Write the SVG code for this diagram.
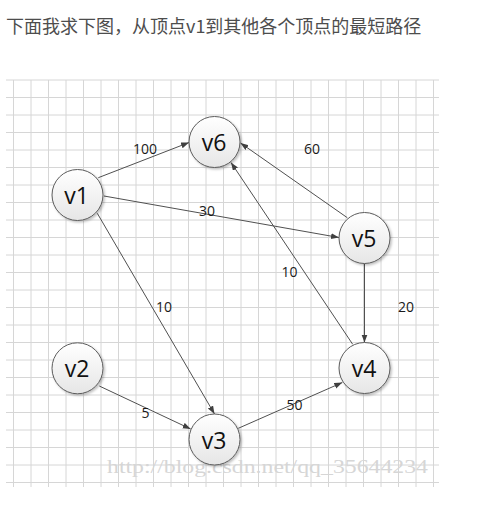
<svg xmlns="http://www.w3.org/2000/svg" width="481" height="514" viewBox="0 0 481 514">
<style>
.grid{stroke:#d6d6d6;stroke-width:1;fill:none}
.edge{stroke:#505050;stroke-width:1;fill:none;marker-end:url(#arr)}
.node circle{fill:url(#g);stroke:#5c5c5c;stroke-width:1;filter:url(#sh)}
.node text{font-family:"Open Sans","Liberation Sans",sans-serif;font-size:23px;fill:#111;text-anchor:middle}
.lbl{font-family:"Open Sans","Liberation Sans",sans-serif;font-size:14px;fill:#1a1a1a}
</style>
<defs>
<linearGradient id="g" x1="0" y1="0" x2="0" y2="1">
<stop offset="0" stop-color="#ffffff"/>
<stop offset="1" stop-color="#e6e6e6"/>
</linearGradient>
<filter id="sh" x="-30%" y="-30%" width="160%" height="160%">
<feDropShadow dx="1.5" dy="1.5" stdDeviation="1.2" flood-color="#000" flood-opacity="0.25"/>
</filter>
<marker id="arr" markerUnits="userSpaceOnUse" markerWidth="10" markerHeight="8" refX="8" refY="3" orient="auto">
<path d="M0,0 L8,3 L0,6 z" fill="#404040"/>
</marker>
</defs>
<rect width="481" height="514" fill="#ffffff"/>
<text x="6" y="33" font-family="'Noto Sans CJK SC','Liberation Sans',sans-serif" font-size="18" fill="#4d4d4d">下面我求下图，从顶点v1到其他各个顶点的最短路径</text>
<g id="grid">
<path class="grid" d="M6,80H439M6,97.5H439M6,115H439M6,132.5H439M6,150H439M6,167.5H439M6,185H439M6,202.5H439M6,220H439M6,237.5H439M6,255H439M6,272.5H439M6,290H439M6,307.5H439M6,325H439M6,342.5H439M6,360H439M6,377.5H439M6,395H439M6,412.5H439M6,430H439M6,447.5H439M6,465H439M6,482.5H439"/>
<path class="grid" d="M13.5,80V487M31,80V487M48.5,80V487M66,80V487M83.5,80V487M101,80V487M118.5,80V487M136,80V487M153.5,80V487M171,80V487M188.5,80V487M206,80V487M223.5,80V487M241,80V487M258.5,80V487M276,80V487M293.5,80V487M311,80V487M328.5,80V487M346,80V487M363.5,80V487M381,80V487M398.5,80V487M416,80V487M433.5,80V487"/>
</g>
<text x="107" y="473" font-family="'Liberation Serif',serif" font-size="18" fill="#d6d6d6" textLength="321" lengthAdjust="spacingAndGlyphs">http://blog.csdn.net/qq_35644234</text>
<g id="connectors">
<line class="edge" x1="98.3" y1="177.7" x2="189" y2="142.5"/>
<line class="edge" x1="104" y1="196" x2="339" y2="237.5"/>
<line class="edge" x1="97.3" y1="213.3" x2="214.5" y2="414"/>
<line class="edge" x1="347.3" y1="217.7" x2="240.5" y2="143"/>
<line class="edge" x1="352.7" y1="344.3" x2="231" y2="162.5"/>
<line class="edge" x1="364.5" y1="263.5" x2="364.5" y2="342.5"/>
<line class="edge" x1="99.3" y1="386" x2="190.7" y2="429"/>
<line class="edge" x1="238.3" y1="428.3" x2="342.3" y2="382.5"/>
<text class="lbl" x="133" y="154">100</text>
<text class="lbl" x="199" y="216">30</text>
<text class="lbl" x="156" y="311.5">10</text>
<text class="lbl" x="304" y="154">60</text>
<text class="lbl" x="281.5" y="276.5">10</text>
<text class="lbl" x="398" y="311.5">20</text>
<text class="lbl" x="141.5" y="417.5">5</text>
<text class="lbl" x="286.5" y="409.5">50</text>
</g>
<g id="v1" class="node"><circle cx="77.5" cy="195" r="25.5"/><text x="76.5" y="204">v1</text></g>
<g id="v6" class="node"><circle cx="214.5" cy="142" r="25.5"/><text x="214" y="151">v6</text></g>
<g id="v5" class="node"><circle cx="364.5" cy="238" r="25.5"/><text x="364" y="247">v5</text></g>
<g id="v2" class="node"><circle cx="77.5" cy="368.3" r="25.5"/><text x="77" y="377.3">v2</text></g>
<g id="v3" class="node"><circle cx="214.5" cy="439.5" r="25.5"/><text x="214" y="448.5">v3</text></g>
<g id="v4" class="node"><circle cx="364.5" cy="368" r="25.5"/><text x="364" y="377">v4</text></g>
</svg>
